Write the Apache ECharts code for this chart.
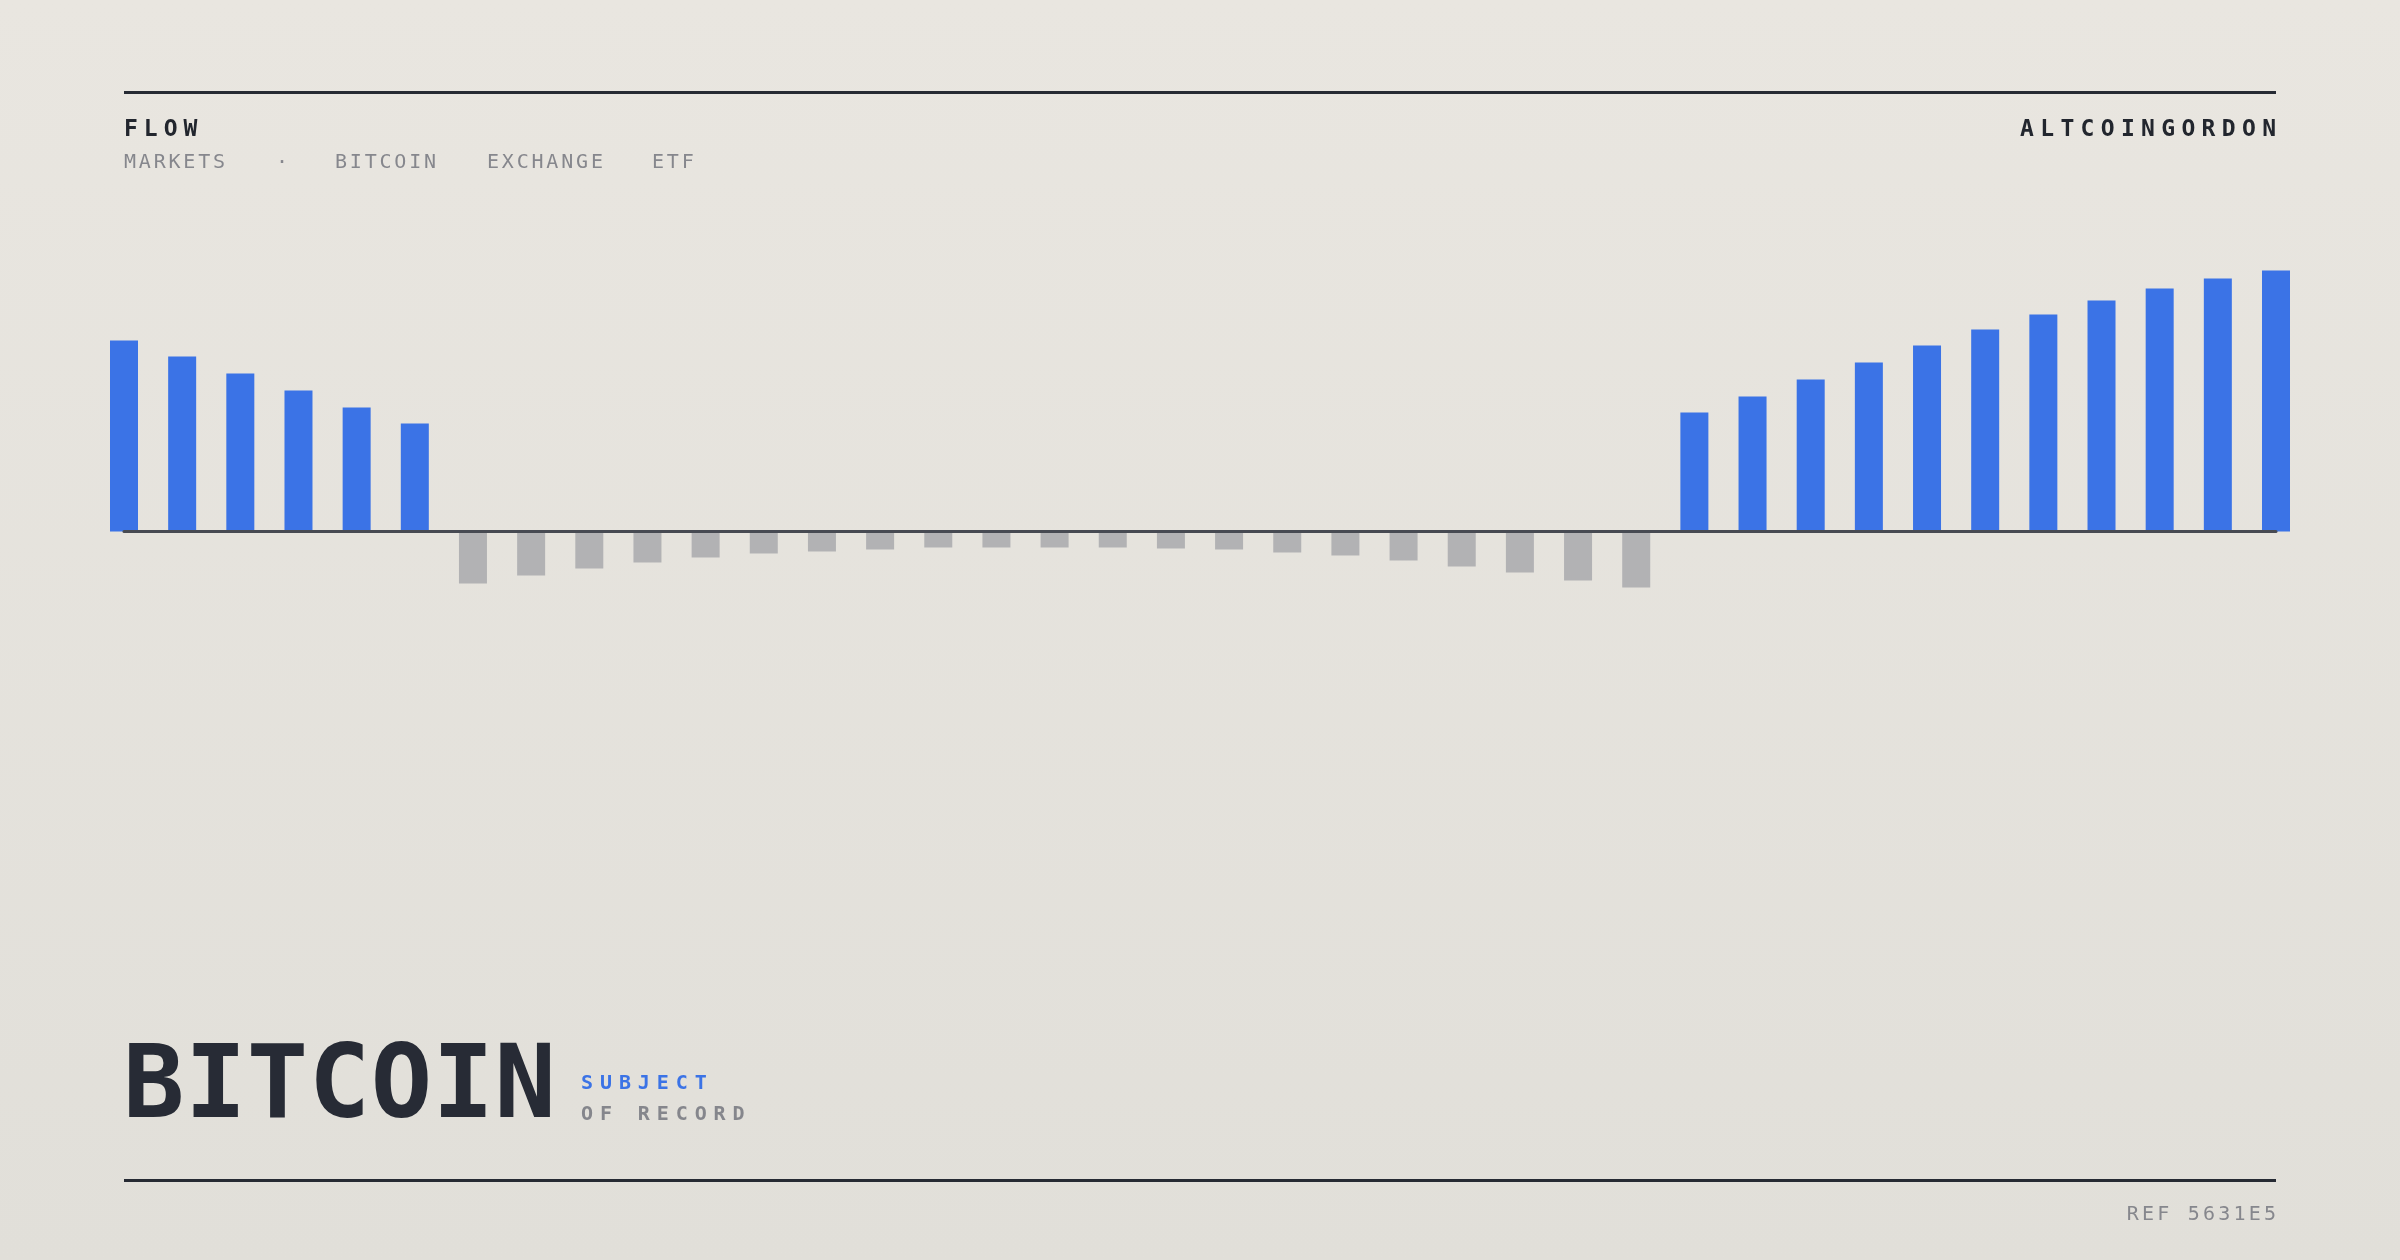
<!DOCTYPE html>
<html>
<head>
<meta charset="utf-8">
<script src="https://cdn.jsdelivr.net/npm/echarts@6/dist/echarts.min.js"></script>
<style>
  html, body { margin: 0; padding: 0; width: 2400px; height: 1260px; overflow: hidden; }
  body { background: linear-gradient(to bottom, #e9e6e0 0%, #e1dfd9 100%); font-family: "DejaVu Sans Mono", monospace; position: relative; }
  #chart { position: absolute; left: 0; top: 0; width: 2400px; height: 1260px; }
  .t { position: absolute; white-space: nowrap; line-height: 1; }
  .rule { position: absolute; left: 124px; width: 2152px; height: 3px; background: #262a33; }
</style>
</head>
<body>
<div id="chart"></div>
<div class="rule" style="top:91px"></div>
<div class="rule" style="top:1179px"></div>
<div class="t" style="left:124px; top:117px; font-size:23px; font-weight:bold; letter-spacing:0.26em; color:#22262e;">FLOW</div>
<div class="t" style="right:124px; top:117px; font-size:23px; font-weight:bold; letter-spacing:0.275em; margin-right:-0.275em; color:#22262e;">ALTCOINGORDON</div>
<div class="t" style="left:124px; top:151px; font-size:20px; letter-spacing:0.14em; color:#86878d;">MARKETS</div>
<div class="t" style="left:276px; top:151px; font-size:20px; color:#86878d;">·</div>
<div class="t" style="left:335px; top:151px; font-size:20px; letter-spacing:0.14em; color:#86878d;">BITCOIN</div>
<div class="t" style="left:487px; top:151px; font-size:20px; letter-spacing:0.14em; color:#86878d;">EXCHANGE</div>
<div class="t" style="left:652px; top:151px; font-size:20px; letter-spacing:0.14em; color:#86878d;">ETF</div>
<div class="t" style="left:123px; top:1031px; font-size:102px; font-weight:bold; letter-spacing:0.5px; color:#272b35;">BITCOIN</div>
<div class="t" style="left:581px; top:1072px; font-size:20px; font-weight:bold; letter-spacing:0.345em; color:#3b73e6;">SUBJECT</div>
<div class="t" style="left:581px; top:1103px; font-size:20px; font-weight:bold; letter-spacing:0.345em; color:#85868c;">OF RECORD</div>
<div class="t" style="right:124px; top:1203px; font-size:20px; letter-spacing:0.16em; margin-right:-0.16em; color:#86878d;">REF 5631E5</div>
<script>
const categories = [
  "01","02","03","04","05","06","07","08","09","10",
  "11","12","13","14","15","16","17","18","19","20",
  "21","22","23","24","25","26","27","28","29","30",
  "31","32","33","34","35","36","37","38"
];
const inflowStart = [191, 175, 158, 141, 124, 108];
const outflowMid = [-52, -44, -37, -31, -26, -22, -20, -18, -16, -16, -16, -16, -17, -18, -21, -24, -29, -35, -41, -49, -56];
const inflowEnd = [119, 135, 152, 169, 186, 202, 217, 231, 243, 253, 261];
const flowValues = inflowStart.concat(outflowMid, inflowEnd);

const BLUE = '#3b73e6';
const GREY = '#b2b2b4';

const chart = echarts.init(document.getElementById('chart'), null, { renderer: 'canvas' });
chart.setOption({
  backgroundColor: 'transparent',
  animation: false,
  grid: { left: 124, right: 124, top: 231.5, bottom: 428.5, containLabel: false },
  xAxis: {
    type: 'category',
    data: categories,
    boundaryGap: false,
    z: 10,
    axisLine: { show: true, onZero: true, lineStyle: { color: '#474a52', width: 3 } },
    axisTick: { show: false },
    axisLabel: { show: false },
    splitLine: { show: false }
  },
  yAxis: {
    type: 'value',
    min: -300,
    max: 300,
    show: false,
    splitLine: { show: false }
  },
  series: [{
    type: 'bar',
    data: flowValues,
    barWidth: 28,
    itemStyle: {
      color: function (p) { return p.value >= 0 ? BLUE : GREY; }
    }
  }]
});
</script>
</body>
</html>
